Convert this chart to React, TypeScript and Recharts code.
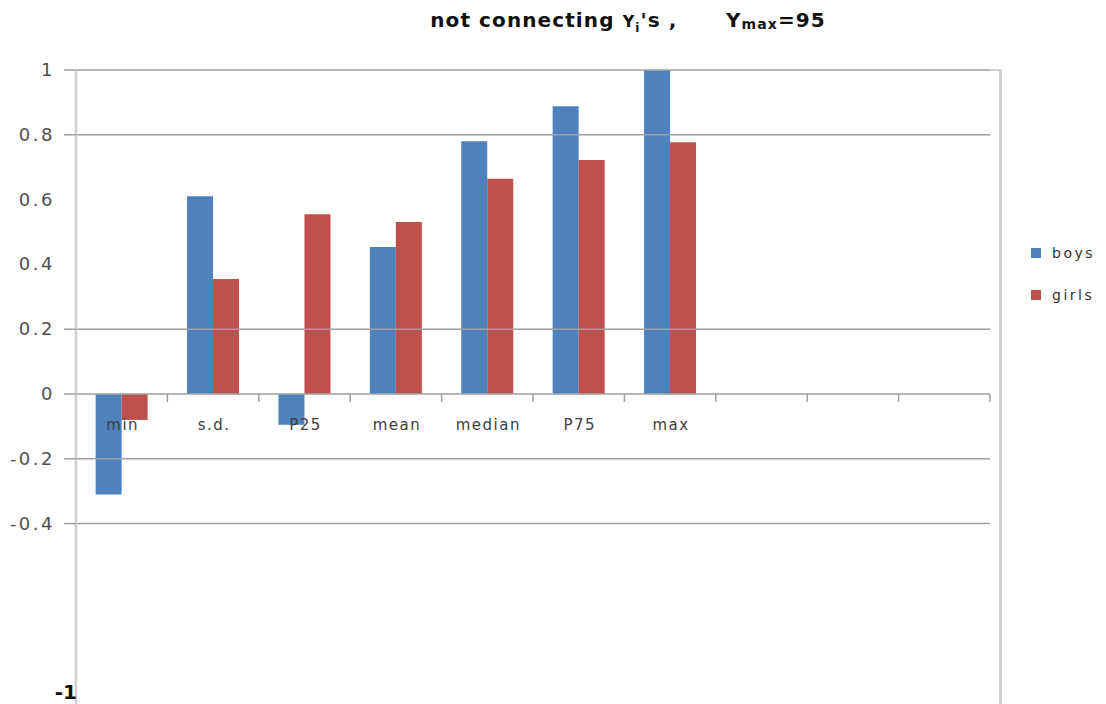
import React from "react";
import { BarChart, Bar, XAxis, YAxis, ReferenceLine } from "recharts";

const categories = ["min", "s.d.", "P25", "mean", "median", "P75", "max", "", "", ""];
const boys = [-0.31, 0.61, -0.095, 0.454, 0.78, 0.888, 1.0, null, null, null];
const girls = [-0.08, 0.355, 0.555, 0.531, 0.664, 0.722, 0.777, null, null, null];
const seriesNames = ["boys", "girls"];
const yTicks = [-1, -0.4, -0.2, 0, 0.2, 0.4, 0.6, 0.8, 1];
const tickText: Record<string, string> = {
  "-1": "-1", "-0.4": "-0.4", "-0.2": "-0.2", "0": "0", "0.2": "0.2",
  "0.4": "0.4", "0.6": "0.6", "0.8": "0.8", "1": "1",
};
// horizontal grid only at these values
const gridValues = [1, 0.8, 0.2, -0.2, -0.4];

const data = categories.map((name, i) => ({ name, boys: boys[i], girls: girls[i] }));
const colors: Record<string, string> = { boys: "#4f81bd", girls: "#c0504d" };

const W = 1106;
const H = 730;
const LEFT = 76;
const RIGHT = 990;
const TOP = 70;
const BOTTOM = 718;
const ZERO_Y = TOP + ((1 - 0) / 2) * (BOTTOM - TOP);
const BAND = (RIGHT - LEFT) / categories.length;

const font = "'DejaVu Sans', 'Open Sans', sans-serif";

const YTick = (props: any) => {
  const { y, payload } = props;
  const v = payload.value as number;
  const hasLine = gridValues.includes(v) || v === 0;
  if (v === -1) {
    // the -1 end of the axis sits just below the visible area, keep its label in view
    return (
      <text x={LEFT + 1} y={y - 19} textAnchor="end" fontFamily={font} fontSize={20} fontWeight={700} fill="#111">
        {tickText[String(v)]}
      </text>
    );
  }
  return (
    <g>
      {hasLine && <line x1={LEFT - 12} x2={LEFT} y1={y} y2={y} stroke="#a0a0a0" strokeWidth={1.5} />}
      <text x={55} y={y} dy={6} textAnchor="end" fontFamily={font} fontSize={18} letterSpacing={2.5} fill="#505050">
        {tickText[String(v)]}
      </text>
    </g>
  );
};

const XTick = (props: any) => {
  const { x, payload } = props;
  return (
    <g>
      <line x1={x + BAND / 2} x2={x + BAND / 2} y1={ZERO_Y} y2={ZERO_Y + 8} stroke="#a0a0a0" strokeWidth={1.5} />
      <text x={x + 1} y={ZERO_Y + 36} textAnchor="middle" fontFamily={font} fontSize={15} letterSpacing={1.5} fill="#404040">
        {payload.value}
      </text>
    </g>
  );
};

export default function App() {
  return (
    <div style={{ position: "absolute", left: 0, top: 0, width: W, height: 704, overflow: "hidden", background: "#fff" }}>
      <div
        style={{
          position: "absolute", left: 0, top: 8, width: 1256, textAlign: "center",
          fontFamily: font, fontWeight: 700, fontSize: 20, letterSpacing: 1.1, color: "#111", whiteSpace: "pre",
        }}
      >
        {"not connecting "}
        <span style={{ fontSize: 16 }}>Y</span>
        <sub style={{ fontSize: 12 }}>i</sub>
        {"'s ,      Y"}
        <sub style={{ fontSize: 14, verticalAlign: "-2px" }}>max</sub>
        {"=95"}
      </div>
      <BarChart
        width={W}
        height={H}
        data={data}
        margin={{ top: TOP, right: W - RIGHT, left: 0, bottom: 0 }}
        barCategoryGap="21.5%"
        barGap={0}
      >
        <YAxis
          type="number"
          domain={[-1, 1]}
          ticks={yTicks}
          width={LEFT}
          interval={0}
          axisLine={{ stroke: "#cfcfcf", strokeWidth: 2.5 }}
          tickLine={false}
          tickSize={0}
          tick={<YTick />}
        />
        <XAxis
          dataKey="name"
          height={H - BOTTOM}
          axisLine={false}
          tickLine={false}
          interval={0}
          allowDuplicatedCategory
          tick={<XTick />}
        />
        {gridValues.map((v) => (
          <ReferenceLine key={v} y={v} stroke="#a0a0a0" strokeWidth={1.5} />
        ))}
        {seriesNames.map((s) => (
          <Bar key={s} dataKey={s} name={s} fill={colors[s]} isAnimationActive={false} />
        ))}
        <ReferenceLine y={0} stroke="#a0a0a0" strokeWidth={1.5} />
      </BarChart>
      {/* legend */}
      <div style={{ position: "absolute", left: 1031, top: 232, fontFamily: font, fontSize: 14, letterSpacing: 2.5, color: "#333" }}>
        {seriesNames.map((s) => (
          <div key={s} style={{ display: "flex", alignItems: "center", height: 42 }}>
            <span style={{ width: 10, height: 10, background: colors[s], marginRight: 11 }} />
            {s}
          </div>
        ))}
      </div>
      {/* chart border on the right */}
      <div style={{ position: "absolute", left: RIGHT, top: TOP - 1, width: 10, height: 2, background: "#d0d0d0" }} />
      <div style={{ position: "absolute", left: 999, top: TOP - 1, width: 3, height: 704, background: "#cfcfcf" }} />
    </div>
  );
}
